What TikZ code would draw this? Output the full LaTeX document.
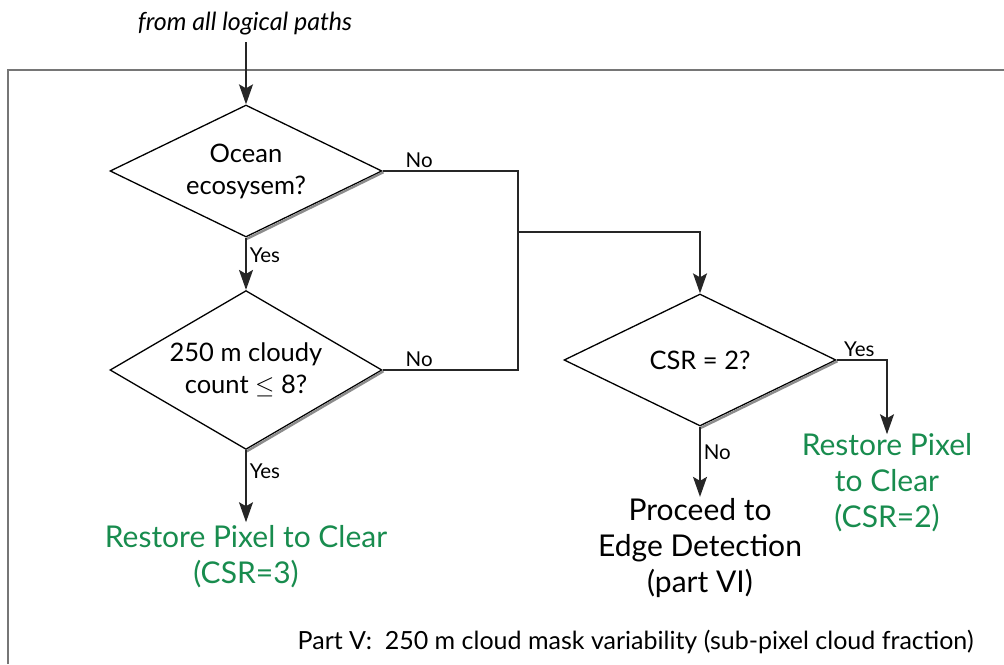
\documentclass[tikz,border=0pt]{standalone}
\usepackage{fontspec}
\setmainfont{Lato}
\usetikzlibrary{shapes.geometric,arrows.meta}
\definecolor{restgreen}{RGB}{24,140,78}
\definecolor{framegray}{RGB}{118,118,118}
\begin{document}
\begin{tikzpicture}[x=1pt, y=-1pt,
    decision/.style={draw, shape=diamond, line width=1.3pt, inner sep=-12pt,
        minimum width=272pt, minimum height=132pt, align=center,
        font=\fontsize{25.5}{32}\selectfont},
    result/.style={align=center, font=\fontsize{30}{36}\selectfont},
    lbl/.style={font=\fontsize{20.5}{22}\selectfont, inner sep=3pt},
    flow/.style={line width=1.6pt, draw=black!85},
    arrow/.style={flow, -{Stealth[length=20pt, width=14pt, inset=4pt]}},
    shade/.style={line width=2.4pt, draw=black!45}]
  \useasboundingbox (0,0) rectangle (1004,664);
  % open frame round part V
  \draw[framegray, line width=2.6pt] (8,664) -- (8,70) -- (1004,70);

  \node (src) at (245,24) {\fontsize{25}{28}\selectfont\itshape from all logical paths};
  \node[decision] (d1) at (246,171) {Ocean\\ecosysem?};
  \node[decision] (d2) at (246,370) {250 m cloudy\\count $\leq$ 8?};
  \node[decision] (d3) at (700,360) {CSR = 2?};
  \node[result, text=restgreen] (r3) at (246,557) {Restore Pixel to Clear\\(CSR=3)};
  \node[result, text=restgreen] (r2) at (887,483) {Restore Pixel\\to Clear\\(CSR=2)};
  \node[result] (pe) at (700,548) {Proceed to\\Edge Detection\\(part VI)};
  \node[anchor=east, font=\fontsize{25}{28}\selectfont] (title) at (977,642)
    {Part V:\ \ 250 m cloud mask variability (sub-pixel cloud fraction)};

  % shading on the lower right edges
  \foreach \d in {d1,d2,d3}
    \draw[shade] ([shift={(0.8,1.2)}]\d.east) -- ([shift={(0.8,1.2)}]\d.south);

  \coordinate (jn) at (518,232);
  \draw[arrow] (d1.north |- 0,42) -- (d1.north);
  \draw[arrow] (d1.south) -- node[lbl, right, pos=0.33] {Yes} (d2.north);
  \draw[arrow] (d2.south) -- node[lbl, right, pos=0.3] {Yes} (d2.south |- r3.north);
  \draw[flow] (d1.east) -- node[lbl, above, pos=0.27] {No} (d1.east -| jn)
    -- (d2.east -| jn) -- (d2.east);
  \path (d2.east) -- node[lbl, above, pos=0.27] {No} (d2.east -| jn);
  \draw[arrow] (jn) -| (d3.north);
  \draw[arrow] (d3.east) -- node[lbl, above, pos=0.45] {Yes} (d3.east -| r2.north)
    -- ([yshift=-4pt]r2.north);
  \draw[arrow] (d3.south) -- node[lbl, right, pos=0.37] {No} ([yshift=-2pt]d3.south |- pe.north);
\end{tikzpicture}
\end{document}
